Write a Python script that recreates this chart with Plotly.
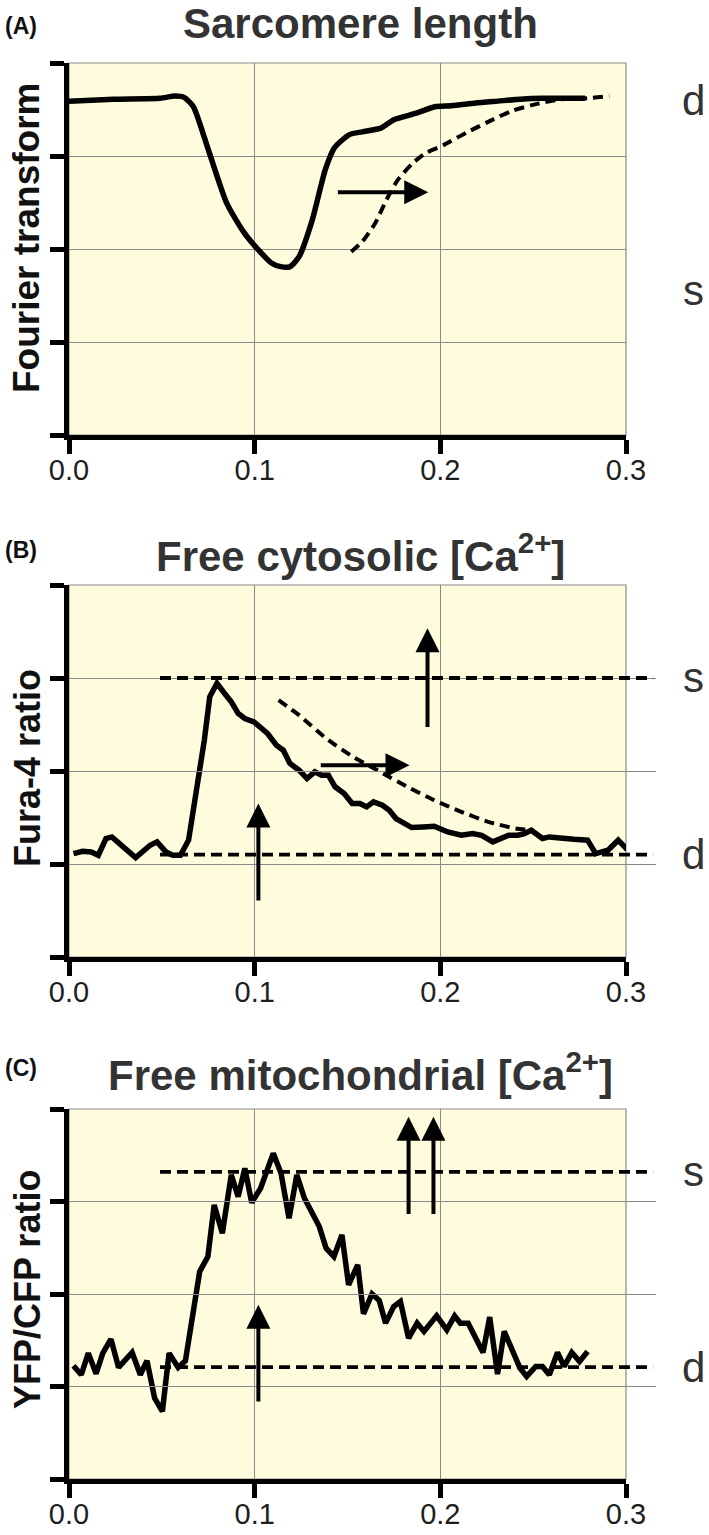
import plotly.graph_objects as go

W, H = 709, 1535

# ---------------- data ----------------
# Panel A: sarcomere length (Fourier transform), solid = control, dashed = shifted
a_t = [0.000, 0.024, 0.049, 0.057, 0.062, 0.067, 0.075, 0.085, 0.0945, 0.102, 0.109, 0.114,
       0.119, 0.124, 0.131, 0.138, 0.143, 0.151, 0.158, 0.168, 0.175, 0.187, 0.197, 0.206,
       0.219, 0.231, 0.243, 0.255, 0.267, 0.278]
a_v = [3.59, 3.61, 3.62, 3.645, 3.63, 3.53, 3.07, 2.49, 2.17, 1.99, 1.85, 1.81,
       1.81, 1.92, 2.31, 2.85, 3.09, 3.23, 3.26, 3.30, 3.39, 3.46, 3.53, 3.54,
       3.57, 3.59, 3.61, 3.62, 3.62, 3.62]
a_dash_t = [0.152, 0.158, 0.165, 0.171, 0.177, 0.185, 0.192, 0.202, 0.214, 0.226, 0.238,
            0.250, 0.265, 0.279, 0.291]
a_dash_v = [1.97, 2.08, 2.28, 2.53, 2.74, 2.92, 3.03, 3.12, 3.25, 3.37, 3.48,
            3.55, 3.61, 3.62, 3.645]
a_arrows = [  # (t_tail, v_tail, t_tip, v_tip)
    (0.1440, 2.61, 0.1935, 2.61),
]
a_labels = [("d", 3.60), ("s", 1.55)]

# Panel B: free cytosolic Ca2+ (Fura-4 ratio)
b_t = [0.0024, 0.0073, 0.0120, 0.0158, 0.0199, 0.0231, 0.0292, 0.0359, 0.0437, 0.0474,
       0.0522, 0.0559, 0.0600, 0.0644, 0.0692, 0.0729, 0.0758, 0.0797, 0.0838, 0.0874,
       0.0911, 0.0947, 0.0996, 0.1032, 0.1069, 0.1117, 0.1154, 0.1190, 0.1239, 0.1282,
       0.1324, 0.1360, 0.1397, 0.1433, 0.1482, 0.1525, 0.1567, 0.1603, 0.1640, 0.1688,
       0.1725, 0.1761, 0.1810, 0.1846, 0.1907, 0.1967, 0.2040, 0.2113, 0.2174, 0.2222,
       0.2283, 0.2320, 0.2368, 0.2417, 0.2453, 0.2490, 0.2514, 0.2550, 0.2587, 0.2648,
       0.2720, 0.2793, 0.2837, 0.2903, 0.2958, 0.3007]
b_v = [1.112, 1.137, 1.130, 1.094, 1.274, 1.291, 1.184, 1.069, 1.202, 1.238,
       1.130, 1.094, 1.094, 1.256, 1.865, 2.332, 2.798, 2.942, 2.834, 2.744,
       2.619, 2.565, 2.529, 2.475, 2.404, 2.278, 2.224, 2.081, 2.009, 1.919,
       1.991, 1.955, 1.955, 1.830, 1.758, 1.650, 1.650, 1.614, 1.668, 1.632,
       1.578, 1.489, 1.435, 1.392, 1.399, 1.406, 1.345, 1.309, 1.327, 1.309,
       1.238, 1.274, 1.309, 1.309, 1.327, 1.363, 1.330, 1.274, 1.291, 1.274,
       1.266, 1.256, 1.112, 1.148, 1.256, 1.155]
b_dash_t = [0.1129, 0.1239, 0.1385, 0.1530, 0.1676, 0.1822, 0.1967, 0.2113, 0.2259, 0.2405, 0.2502]
b_dash_v = [2.762, 2.601, 2.350, 2.152, 1.991, 1.830, 1.686, 1.561, 1.453, 1.381, 1.363]
b_levels = {"s": 3.0, "d": 1.1}
b_arrows = [
    (0.1348, 2.063, 0.1834, 2.063),
    (0.1020, 0.592, 0.1020, 1.650),
    (0.1931, 2.457, 0.1931, 3.534),
]

# Panel C: free mitochondrial Ca2+ (YFP/CFP ratio)
c_t = [0.0024, 0.0066, 0.0104, 0.0146, 0.0182, 0.0226, 0.0267, 0.0340, 0.0384, 0.0420,
       0.0461, 0.0503, 0.0539, 0.0588, 0.0627, 0.0675, 0.0704, 0.0748, 0.0782, 0.0826,
       0.0874, 0.0911, 0.0947, 0.0984, 0.1032, 0.1100, 0.1142, 0.1185, 0.1227, 0.1268,
       0.1307, 0.1348, 0.1385, 0.1427, 0.1470, 0.1506, 0.1555, 0.1586, 0.1632, 0.1671,
       0.1705, 0.1749, 0.1785, 0.1829, 0.1875, 0.1912, 0.1980, 0.2035, 0.2077, 0.2108,
       0.2150, 0.2230, 0.2266, 0.2308, 0.2344, 0.2393, 0.2429, 0.2465, 0.2514, 0.2550,
       0.2587, 0.2631, 0.2667, 0.2708, 0.2750, 0.2793]
c_v = [1.224, 1.127, 1.361, 1.138, 1.361, 1.512, 1.206, 1.368, 1.127, 1.278,
       0.875, 0.731, 1.361, 1.206, 1.278, 1.865, 2.243, 2.405, 2.963, 2.657,
       3.287, 3.053, 3.359, 2.988, 3.143, 3.521, 3.305, 2.819, 3.287, 3.035,
       2.873, 2.729, 2.495, 2.405, 2.639, 2.099, 2.315, 1.786, 2.002, 1.930,
       1.685, 1.865, 1.919, 1.523, 1.685, 1.595, 1.764, 1.613, 1.764, 1.685,
       1.685, 1.368, 1.750, 1.134, 1.595, 1.361, 1.199, 1.109, 1.217, 1.217,
       1.127, 1.368, 1.217, 1.368, 1.271, 1.379]
c_levels = {"s": 3.32, "d": 1.21}
c_arrows = [
    (0.1020, 0.821, 0.1020, 1.883),
    (0.1829, 2.848, 0.1829, 3.917),
    (0.1963, 2.848, 0.1963, 3.917),
]

level_t = [0.049, 0.3146]          # extent of the s / d reference lines

x_ticks = [0.0, 0.1, 0.2, 0.3]
x_ticklabels = ["0.0", "0.1", "0.2", "0.3"]
y_ticks = [0, 1, 2, 3, 4]
X_RANGE = [0.0, 0.3]
Y_RANGE = [0.0, 4.0]

titles = ["Sarcomere length",
          "Free cytosolic [Ca<sup>2+</sup>]",
          "Free mitochondrial [Ca<sup>2+</sup>]"]
panel_tags = ["(A)", "(B)", "(C)"]
ylabels = ["Fourier transform", "Fura-4 ratio", "YFP/CFP ratio"]

# ---------------- layout geometry (pixels) ----------------
PLOT_L, PLOT_R, EXT_R = 69, 626, 656
PANELS = [(63, 435), (585, 957), (1109, 1479)]
TITLE_Y = [24, 553, 1072]
TAG_Y = [26, 550, 1068]
YLAB_Y = [238, 768, 1290]
YLAB_SIZE = [37, 36, 36]
LABEL_X = 693

FONT = "Liberation Sans, Arial, Helvetica, sans-serif"
BG = "#FEFCDC"
GRID = "#8A8A8A"
TXT = "#2A2A2A"

fig = go.Figure()
layout = dict(
    width=W, height=H,
    margin=dict(l=0, r=0, t=0, b=0, pad=0, autoexpand=False),
    paper_bgcolor="white",
    plot_bgcolor="rgba(0,0,0,0)",
    showlegend=False,
    font=dict(family=FONT, color=TXT),
)

ext_range = [0.0, X_RANGE[1] * (EXT_R - PLOT_L) / (PLOT_R - PLOT_L)]
shapes = []

for i, (top, bot) in enumerate(PANELS):
    n = i + 1
    sfx = str(n) if n > 1 else ""
    xid, yid = "x" + sfx, "y" + sfx
    layout["xaxis" + sfx] = dict(
        domain=[PLOT_L / W, PLOT_R / W], anchor=yid, range=X_RANGE,
        tickvals=x_ticks, ticktext=x_ticklabels,
        showline=True, linecolor="black", linewidth=5,
        ticks="outside", ticklen=14, tickwidth=5, tickcolor="black",
        showgrid=True, gridcolor=GRID, gridwidth=1.2, zeroline=False,
        tickfont=dict(size=29, color="#1E1E1E", family=FONT),
        ticklabelstandoff=-9,
        automargin=False, fixedrange=True, layer="above traces",
    )
    layout["yaxis" + sfx] = dict(
        domain=[1 - bot / H, 1 - top / H], anchor=xid, range=Y_RANGE,
        tickvals=y_ticks, showticklabels=False,
        showline=True, linecolor="black", linewidth=5,
        ticks="outside", ticklen=14, tickwidth=5, tickcolor="black",
        showgrid=True, gridcolor=GRID, gridwidth=1.2, zeroline=False,
        automargin=False, fixedrange=True, layer="above traces",
    )
    # extended, invisible x axis so the s / d reference lines can reach past the frame
    layout[f"xaxis{n + 3}"] = dict(
        domain=[PLOT_L / W, EXT_R / W], anchor=yid, range=ext_range,
        visible=False, fixedrange=True, automargin=False,
    )
    # panel background + thin grey frame
    shapes.append(dict(
        type="rect", xref=xid + " domain", yref=yid + " domain",
        x0=0, x1=1, y0=0, y1=1, layer="below",
        fillcolor=BG, line=dict(color=GRID, width=1.2),
    ))

layout["shapes"] = shapes
fig.update_layout(**layout)

line_solid = dict(color="black", width=5.5)
dash_curve = dict(color="black", width=4, dash="10px,6px", shape="spline", smoothing=0.6)
dash_level = dict(color="black", width=3.8, dash="11px,6px")

# Panel A
fig.add_trace(go.Scatter(x=a_t, y=a_v, mode="lines",
                         line=dict(color="black", width=5.5, shape="spline", smoothing=0.6),
                         xaxis="x", yaxis="y"))
fig.add_trace(go.Scatter(x=a_dash_t, y=a_dash_v, mode="lines", line=dash_curve, xaxis="x", yaxis="y"))

# Panel B
fig.add_trace(go.Scatter(x=b_t, y=b_v, mode="lines", line=line_solid, xaxis="x2", yaxis="y2"))
fig.add_trace(go.Scatter(x=b_dash_t, y=b_dash_v, mode="lines", line=dash_curve, xaxis="x2", yaxis="y2"))
for lv in b_levels.values():
    fig.add_trace(go.Scatter(x=level_t, y=[lv, lv], mode="lines", line=dash_level, xaxis="x5", yaxis="y2"))

# Panel C
fig.add_trace(go.Scatter(x=c_t, y=c_v, mode="lines", line=line_solid, xaxis="x3", yaxis="y3"))
for lv in c_levels.values():
    fig.add_trace(go.Scatter(x=level_t, y=[lv, lv], mode="lines", line=dash_level, xaxis="x6", yaxis="y3"))

annotations = []


def add_arrows(arrs, xid, yid):
    for (t0, v0, t1, v1) in arrs:
        annotations.append(dict(
            x=t1, y=v1, ax=t0, ay=v0, xref=xid, yref=yid, axref=xid, ayref=yid,
            text="", showarrow=True, arrowhead=2, arrowsize=1.2, arrowwidth=4,
            arrowcolor="black", standoff=0, startstandoff=0,
        ))


add_arrows(a_arrows, "x", "y")
add_arrows(b_arrows, "x2", "y2")
add_arrows(c_arrows, "x3", "y3")

# d / s labels
side_labels = [
    list(a_labels),
    list(b_levels.items()),
    list(c_levels.items()),
]
for i, labs in enumerate(side_labels):
    yid = "y" + (str(i + 1) if i > 0 else "")
    for k, v in labs:
        annotations.append(dict(
            text=k, x=LABEL_X / W, xref="paper", y=v, yref=yid,
            xanchor="center", yanchor="middle", showarrow=False,
            font=dict(size=42, color="#333333", family=FONT),
        ))

for i in range(3):
    annotations.append(dict(
        text=f"<b>{titles[i]}</b>", x=360 / W, y=1 - TITLE_Y[i] / H, xref="paper", yref="paper",
        xanchor="center", yanchor="middle", showarrow=False,
        font=dict(size=42, color="#333333", family=FONT),
    ))
    annotations.append(dict(
        text=f"<b>{panel_tags[i]}</b>", x=3 / W, y=1 - TAG_Y[i] / H, xref="paper", yref="paper",
        xanchor="left", yanchor="middle", showarrow=False,
        font=dict(size=23, color="#111111", family=FONT),
    ))
    annotations.append(dict(
        text=f"<b>{ylabels[i]}</b>", x=27 / W, y=1 - YLAB_Y[i] / H, xref="paper", yref="paper",
        xanchor="center", yanchor="middle", textangle=-90, showarrow=False,
        font=dict(size=YLAB_SIZE[i], color="#111111", family=FONT),
    ))

fig.update_layout(annotations=annotations)

# remove the browser's default 8px page margin so the figure sits at the window origin
fig.write_html(
    "out.html",
    config={"displayModeBar": False},
    post_script="document.body.style.margin='0';document.body.style.padding='0';"
                "document.documentElement.style.margin='0';",
)
